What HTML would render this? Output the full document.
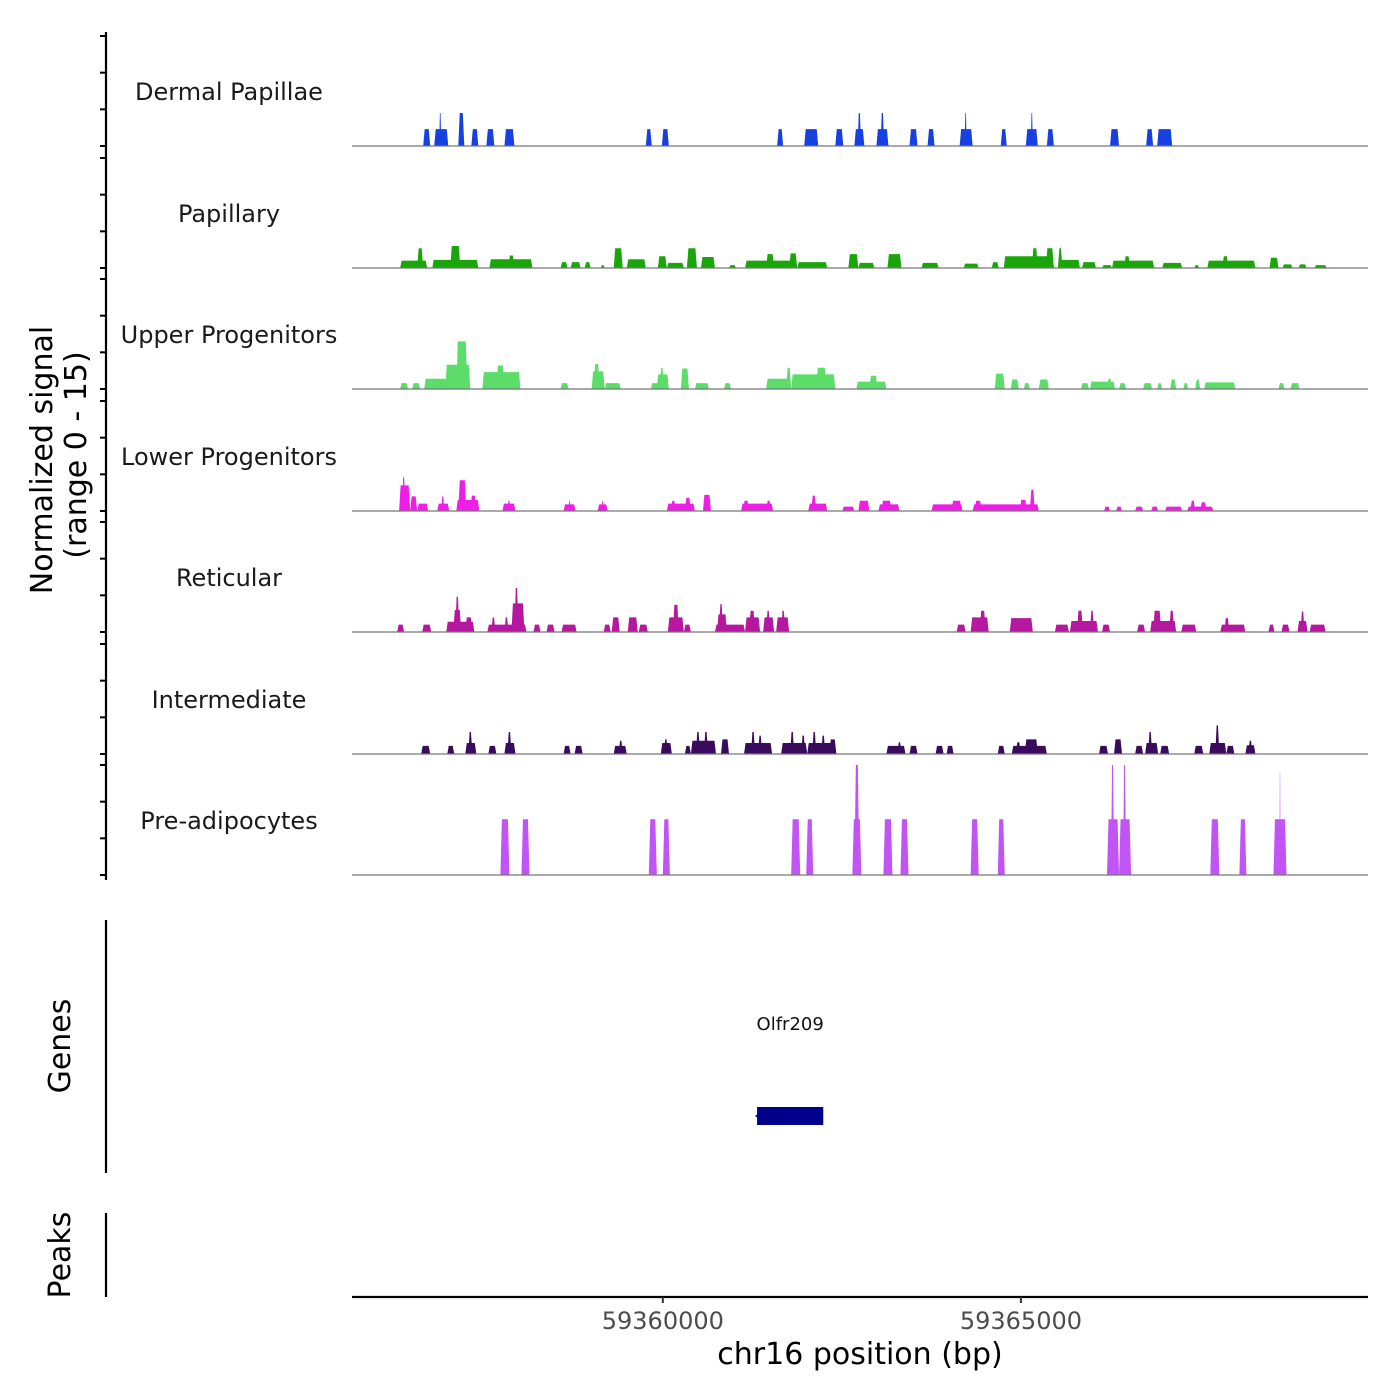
<!DOCTYPE html>
<html><head><meta charset="utf-8"><style>
body{margin:0;background:#fff}
svg{display:block;font-family:"DejaVu Sans","Liberation Sans",sans-serif}
</style></head><body>
<svg id="chart" width="1400" height="1400" viewBox="0 0 1400 1400"></svg>
<script>
// ---- data ----
const trackNames = ["Dermal Papillae","Papillary","Upper Progenitors","Lower Progenitors","Reticular","Intermediate","Pre-adipocytes"];
const trackColors = ["#1740e0","#1aa60a","#5cdd6a","#ee1ee6","#b5179e","#3a0a5c","#c154f5"];
const xTicks = [59360000,59365000];
const xTickLabels = ["59360000","59365000"];
const signalRange = [0,15];
const geneName = "Olfr209";
const geneStart = 59361316, geneEnd = 59362240;
// peaks: [startBp, endBp, value]
const dermal = [[59356654,59356752,2.3],[59356808,59357004,2.3],[59356878,59356906,4.5],[59357144,59357228,4.5],[59357326,59357424,2.3],[59357536,59357648,2.3],[59357788,59357928,2.3],[59359762,59359846,2.3],[59359986,59360084,2.3],[59361596,59361680,2.3],[59361974,59362170,2.3],[59362408,59362520,2.3],[59362674,59362814,2.3],[59362720,59362768,4.5],[59362982,59363150,2.3],[59363040,59363090,4.5],[59363444,59363556,2.3],[59363696,59363794,2.3],[59364144,59364326,2.3],[59364214,59364242,4.5],[59364718,59364802,2.3],[59365068,59365236,2.3],[59365138,59365166,4.5],[59365362,59365460,2.3],[59366244,59366370,2.3],[59366748,59366846,2.3],[59366902,59367112,2.3]];
const papillary = [[59356332,59356710,1.0],[59356570,59356654,2.7],[59356780,59357424,1.1],[59357032,59357172,3.0],[59357578,59358180,1.2],[59357844,59357928,1.7],[59358572,59358670,0.8],[59358712,59358852,0.8],[59358908,59358992,0.8],[59359132,59359188,0.4],[59359314,59359440,2.7],[59359496,59359762,1.2],[59359930,59360056,1.6],[59360056,59360294,0.7],[59360336,59360476,2.7],[59360532,59360728,1.5],[59360924,59361022,0.4],[59361148,59361876,1.0],[59361442,59361554,1.9],[59361764,59361876,2.0],[59361876,59362296,0.8],[59362590,59362730,1.9],[59362730,59362954,0.7],[59363136,59363332,1.9],[59363612,59363850,0.7],[59364200,59364410,0.6],[59364592,59364690,0.8],[59364760,59365460,1.6],[59365152,59365236,2.7],[59365348,59365460,2.7],[59365516,59365824,1.1],[59365516,59365580,2.7],[59365852,59366048,0.8],[59366132,59366272,0.4],[59366272,59366860,1.0],[59366440,59366524,1.6],[59366972,59367252,0.7],[59367420,59367490,0.4],[59367602,59368274,1.0],[59367812,59367896,1.6],[59368470,59368596,1.4],[59368652,59368792,0.5],[59368876,59368988,0.5],[59369100,59369268,0.4]];
const upper = [[59356332,59356444,0.8],[59356500,59356612,0.8],[59356668,59356990,1.4],[59356962,59357312,3.3],[59357116,59357270,6.5],[59357480,59358012,2.3],[59357676,59357788,3.2],[59358572,59358684,0.8],[59359006,59359188,2.4],[59359034,59359118,3.4],[59359188,59359412,0.8],[59359832,59359972,0.8],[59359916,59360084,2.0],[59359958,59360014,2.9],[59360252,59360364,2.8],[59360448,59360644,0.8],[59360854,59360952,0.8],[59361442,59361792,1.4],[59361722,59361792,2.9],[59361792,59362408,2.0],[59362142,59362282,2.9],[59362702,59363122,1.0],[59362884,59362996,1.8],[59364634,59364774,2.1],[59364858,59364970,1.3],[59365040,59365124,0.8],[59365250,59365390,1.3],[59365838,59365950,0.8],[59365964,59366314,1.0],[59366202,59366272,1.4],[59366370,59366468,0.8],[59366706,59366832,0.8],[59366902,59366972,0.8],[59367084,59367168,1.3],[59367266,59367336,0.8],[59367434,59367504,1.3],[59367560,59367994,0.9],[59368596,59368680,0.8],[59368764,59368890,0.8]];
const lower = [[59356318,59356472,3.5],[59356360,59356402,4.6],[59356472,59356570,2.0],[59356570,59356724,1.0],[59356850,59357018,1.0],[59356906,59356948,2.0],[59357116,59357438,1.5],[59357144,59357256,4.2],[59357312,59357396,2.1],[59357760,59357942,1.0],[59357830,59357872,1.4],[59358614,59358782,0.9],[59358684,59358712,1.4],[59359090,59359230,0.9],[59359146,59359174,1.4],[59360056,59360448,1.0],[59360112,59360182,1.4],[59360308,59360392,1.8],[59360560,59360672,2.2],[59361092,59361540,1.0],[59361120,59361204,1.4],[59361442,59361512,1.4],[59362030,59362296,1.0],[59362072,59362142,2.1],[59362506,59362674,0.6],[59362730,59362884,1.4],[59363010,59363304,0.9],[59363052,59363192,1.4],[59363752,59364186,0.9],[59364032,59364172,1.4],[59364326,59365250,0.9],[59364354,59364452,1.4],[59364984,59365082,1.5],[59365124,59365194,2.9],[59366160,59366244,0.6],[59366328,59366412,0.6],[59366594,59366706,0.6],[59366818,59366916,0.6],[59367014,59367252,0.6],[59367322,59367686,0.6],[59367364,59367434,1.4],[59367504,59367588,1.2]];
const reticular = [[59356290,59356388,1.0],[59356640,59356766,1.0],[59356976,59357368,1.4],[59357074,59357186,3.0],[59357102,59357158,4.8],[59357242,59357340,2.0],[59357550,59358096,1.0],[59357606,59357662,2.0],[59357788,59357844,2.0],[59357886,59358068,3.9],[59357928,59357984,6.0],[59358194,59358292,1.0],[59358376,59358488,1.0],[59358586,59358796,1.0],[59359174,59359272,1.0],[59359286,59359398,2.0],[59359510,59359650,2.0],[59359664,59359790,1.0],[59360070,59360294,2.0],[59360140,59360224,3.7],[59360294,59360392,1.0],[59360728,59361148,1.0],[59360756,59360896,2.4],[59360784,59360840,3.8],[59361148,59361358,2.0],[59361204,59361288,2.9],[59361400,59361554,2.0],[59361442,59361498,2.9],[59361582,59361764,2.0],[59361652,59361708,2.9],[59364102,59364228,1.0],[59364298,59364550,2.0],[59364424,59364508,2.9],[59364844,59365166,1.9],[59365474,59365670,1.0],[59365684,59366076,1.5],[59365782,59365866,2.9],[59365964,59366020,2.9],[59366132,59366244,1.0],[59366622,59366734,1.0],[59366804,59367168,1.5],[59366846,59366958,2.9],[59367070,59367140,2.9],[59367238,59367448,1.0],[59367784,59368134,1.0],[59367840,59367910,1.9],[59368456,59368540,1.0],[59368638,59368750,1.0],[59368862,59369002,1.5],[59368904,59368960,2.8],[59369030,59369254,1.0]];
const intermediate = [[59356626,59356752,1.1],[59356990,59357088,1.1],[59357242,59357396,1.5],[59357284,59357340,3.0],[59357564,59357676,1.1],[59357788,59357942,1.5],[59357830,59357886,3.0],[59358614,59358712,1.1],[59358768,59358880,1.1],[59359314,59359496,1.1],[59359384,59359440,1.8],[59359972,59360126,1.5],[59360014,59360070,2.0],[59360308,59360392,1.1],[59360392,59360742,1.8],[59360462,59360518,3.0],[59360574,59360630,3.0],[59360812,59360924,2.0],[59361134,59361526,1.5],[59361232,59361288,3.0],[59361330,59361386,2.5],[59361652,59362016,1.5],[59361778,59361834,3.0],[59361932,59361988,2.5],[59362016,59362422,1.5],[59362086,59362142,3.0],[59362212,59362268,2.5],[59362324,59362422,2.0],[59363122,59363388,1.1],[59363276,59363332,1.6],[59363444,59363556,1.1],[59363808,59363920,1.1],[59363962,59364060,1.1],[59364676,59364774,1.1],[59364872,59365362,1.1],[59364928,59364998,1.6],[59365054,59365236,2.0],[59366090,59366216,1.1],[59366300,59366412,2.0],[59366594,59366706,1.1],[59366734,59366916,1.5],[59366776,59366832,3.0],[59366944,59367070,1.1],[59367420,59367546,1.1],[59367630,59367868,1.5],[59367714,59367770,3.9],[59367868,59367980,1.1],[59368134,59368274,1.2],[59368176,59368232,1.8]];
const preadipocytes = [[59357732,59357858,7.6],[59358026,59358138,7.6],[59359804,59359916,7.6],[59360000,59360098,7.6],[59361792,59361918,7.6],[59362002,59362100,7.6],[59362646,59362772,7.6],[59362674,59362744,15],[59363080,59363206,7.6],[59363318,59363430,7.6],[59364298,59364410,7.6],[59364676,59364774,7.6],[59366202,59366370,7.6],[59366258,59366300,15],[59366370,59366538,7.6],[59366426,59366468,15],[59367644,59367770,7.6],[59368050,59368148,7.6],[59368526,59368708,7.6],[59368610,59368624,14]];
const tracks = [dermal,papillary,upper,lower,reticular,intermediate,preadipocytes];

// ---- layout ----
const NS="http://www.w3.org/2000/svg";
const svg=document.getElementById('chart');
const X0=352,X1=1368,BP0=59355660,BP1=59369846;
const xScale=bp=>X0+(bp-BP0)/(BP1-BP0)*(X1-X0);
const baselines=[146,268,389,511,632,754,875];
const PXMAX=110;
const yScale=(v,b)=>b-(v-signalRange[0])/(signalRange[1]-signalRange[0])*PXMAX;
function mk(tag,attrs,parent){const e=document.createElementNS(NS,tag);for(const k in attrs)e.setAttribute(k,attrs[k]);(parent||svg).appendChild(e);return e;}
function txt(s,attrs,parent){const e=mk('text',attrs,parent);e.textContent=s;return e;}

// left axis
let ax=mk('line',{x1:106,y1:32,x2:106,y2:880,stroke:'#000','stroke-width':2.2});


baselines.forEach((b,i)=>{
  [0,5,10,15].forEach(v=>{
    const y=yScale(v,b);
    const t=mk('line',{x1:100,y1:y,x2:106,y2:y,stroke:'#000','stroke-width':2});
    
    
  });
});
let t1=txt('Normalized signal',{x:0,y:0,'font-size':30,'text-anchor':'middle',transform:'translate(52,460) rotate(-90)'});


let t2=txt('(range 0 - 15)',{x:0,y:0,'font-size':30,'text-anchor':'middle',transform:'translate(86,455) rotate(-90)'});



tracks.forEach((peaks,i)=>{
  const b=baselines[i];
  const g=mk('g',{});
  
  
  const lab=txt(trackNames[i],{x:229,y:b-54+8,'font-size':24,'text-anchor':'middle',fill:'#1a1a1a'},g);
  
  
  peaks.forEach(p=>{
    const x0=xScale(p[0]),x1=xScale(p[1]),y=yScale(p[2],b);
    const s=Math.min(1.5,(x1-x0)/3);
    const poly=mk('polygon',{points:`${x0},${b} ${x0+s},${y} ${x1-s},${y} ${x1},${b}`,fill:trackColors[i]},g);
    
    
  });
  const bl=mk('line',{x1:X0,y1:b,x2:X1,y2:b,stroke:'#777','stroke-width':1.2},g);
  
  
});

// genes
let ga=mk('line',{x1:106,y1:920,x2:106,y2:1173,stroke:'#000','stroke-width':2.2});


let gt=txt('Genes',{x:0,y:0,'font-size':30,'text-anchor':'middle',transform:'translate(70,1046) rotate(-90)'});


let gl=txt(geneName,{x:(xScale(geneStart)+xScale(geneEnd))/2,y:1030,'font-size':18,'text-anchor':'middle',fill:'#111'});


let gb=mk('rect',{x:xScale(geneStart),y:1107,width:xScale(geneEnd)-xScale(geneStart),height:18,fill:'#00008b'});


let gar=mk('polygon',{points:`${xScale(geneStart)-2},1116 ${xScale(geneStart)+2},1113 ${xScale(geneStart)+2},1119`,fill:'#00008b'});



// peaks panel
let pa=mk('line',{x1:106,y1:1213,x2:106,y2:1297,stroke:'#000','stroke-width':2.2});


let pt=txt('Peaks',{x:0,y:0,'font-size':30,'text-anchor':'middle',transform:'translate(70,1255) rotate(-90)'});



// x axis
let xa=mk('line',{x1:X0,y1:1297,x2:X1,y2:1297,stroke:'#000','stroke-width':2.2});


xTicks.forEach((v,i)=>{
  const x=xScale(v);
  const tk=mk('line',{x1:x,y1:1297,x2:x,y2:1303,stroke:'#333','stroke-width':2});
  
  
  const tl=txt(xTickLabels[i],{x:x,y:1329,'font-size':24,'text-anchor':'middle',fill:'#4d4d4d'});
  
  
});
let xt=txt('chr16 position (bp)',{x:860,y:1364,'font-size':30,'text-anchor':'middle',fill:'#000'});


</script>
</body></html>
